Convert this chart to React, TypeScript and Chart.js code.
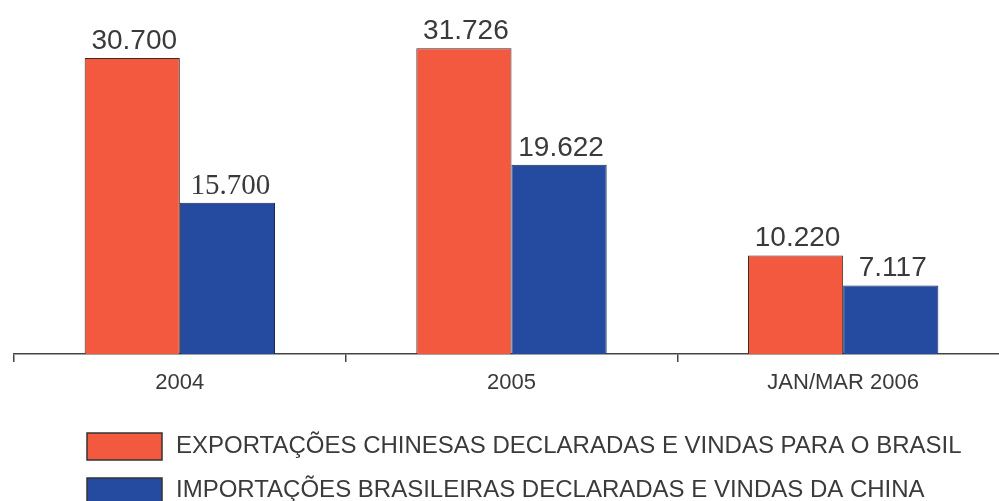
import React, { useEffect, useRef } from "react";
import { Chart, registerables } from "chart.js";

Chart.register(...registerables);

const categories = ["2004", "2005", "JAN/MAR 2006"];
const exportLabel = "EXPORTAÇÕES CHINESAS DECLARADAS E VINDAS PARA O BRASIL";
const importLabel = "IMPORTAÇÕES BRASILEIRAS DECLARADAS E VINDAS DA CHINA";
const chineseExports = [30.7, 31.726, 10.22];
const brazilianImports = [15.7, 19.622, 7.117];

const RED = "#F2593F";
const BLUE = "#244BA0";
const TEXT = "#3a3a3a";
const SANS = "'Liberation Sans', Arial, sans-serif";
const SERIF = "'Liberation Serif', 'Times New Roman', serif";

const fmt = (v: number) => v.toFixed(3);

const valueLabels = {
  id: "valueLabels",
  afterDatasetsDraw(chart: any) {
    const ctx = chart.ctx;
    ctx.save();
    ctx.fillStyle = TEXT;
    ctx.textAlign = "center";
    ctx.textBaseline = "alphabetic";
    chart.data.datasets.forEach((ds: any, di: number) => {
      const meta = chart.getDatasetMeta(di);
      meta.data.forEach((bar: any, i: number) => {
        const serif = di === 1 && i === 0;
        ctx.font = serif ? `29px ${SERIF}` : `28px ${SANS}`;
        ctx.fillText(fmt(ds.data[i]), bar.x + (serif ? 3 : 2), bar.y - 9);
      });
    });
    ctx.restore();
  },
};

const customLegend = {
  id: "customLegend",
  afterDraw(chart: any) {
    const ctx = chart.ctx;
    ctx.save();
    chart.data.datasets.forEach((ds: any, i: number) => {
      const y = 433 + i * 45;
      ctx.fillStyle = ds.backgroundColor;
      ctx.fillRect(87, y, 75, 27);
      ctx.strokeStyle = "#333";
      ctx.lineWidth = 1.5;
      ctx.strokeRect(87, y, 75, 27);
      ctx.fillStyle = TEXT;
      ctx.font = `24px ${SANS}`;
      ctx.textAlign = "left";
      ctx.textBaseline = "middle";
      ctx.fillText(ds.label, 176, 446 + i * 44);
    });
    ctx.restore();
  },
};

export default function App() {
  const ref = useRef<HTMLCanvasElement | null>(null);
  useEffect(() => {
    if (!ref.current) return;
    const chart = new Chart(ref.current, {
      type: "bar",
      data: {
        labels: categories,
        datasets: [
          {
            label: exportLabel,
            data: chineseExports,
            backgroundColor: RED,
            borderColor: "#3a2a28",
            borderWidth: 1,
            categoryPercentage: 0.574,
            barPercentage: 1,
          },
          {
            label: importLabel,
            data: brazilianImports,
            backgroundColor: BLUE,
            borderColor: "#1a2a50",
            borderWidth: 1,
            categoryPercentage: 0.574,
            barPercentage: 1,
          },
        ],
      },
      options: {
        animation: false,
        responsive: false,
        maintainAspectRatio: false,
        layout: { padding: { left: 14, right: 11, top: 7, bottom: 0 } },
        plugins: {
          legend: { display: false },
          tooltip: { enabled: false },
        },
        scales: {
          x: {
            grid: {
              display: true,
              offset: true,
              drawOnChartArea: false,
              drawTicks: true,
              tickLength: 8,
              color: "#444",
              lineWidth: 1.5,
            },
            border: { display: true, color: "#444", width: 1.5 },
            ticks: {
              color: TEXT,
              font: { family: SANS, size: 22 },
              padding: 8,
            },
            afterFit: (s: any) => {
              s.height = 147;
            },
          },
          y: {
            display: false,
            min: 0,
            max: 36,
          },
        },
      },
      plugins: [valueLabels, customLegend],
    });
    return () => chart.destroy();
  }, []);
  return (
    <div
      style={{
        position: "fixed",
        left: 0,
        top: 0,
        width: 999,
        height: 501,
        overflow: "hidden",
        background: "#fff",
      }}
    >
      <canvas ref={ref} width={1020} height={501} style={{ display: "block" }} />
    </div>
  );
}
